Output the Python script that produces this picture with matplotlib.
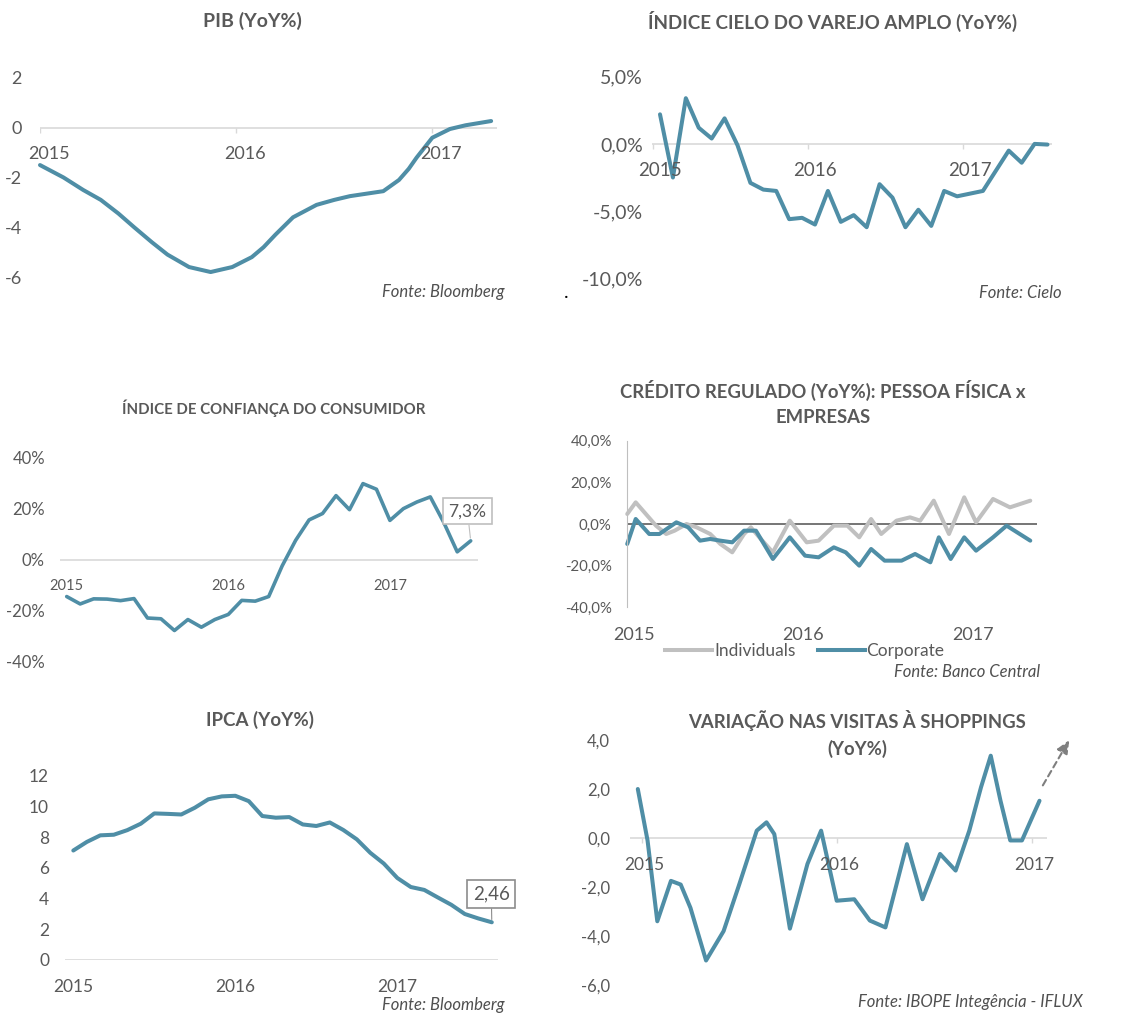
import matplotlib
matplotlib.use("Agg")
import matplotlib.pyplot as plt
from matplotlib.lines import Line2D
import numpy as np

plt.rcParams['font.family'] = ['Lato', 'DejaVu Sans']

W, H = 1126, 1017
AZUL = '#4f8ea6'
CINZA_LINHA = '#c0c0c0'
TEXTO = '#595959'
EIXO = '#d9d9d9'
LW = 2.9

# ---- dados ----
# PIB (YoY%), leitura trimestral suavizada
pib_t = [2015.00, 2015.12, 2015.22, 2015.31, 2015.40, 2015.48, 2015.57, 2015.65, 2015.76,
         2015.87, 2015.98, 2016.08, 2016.14, 2016.20, 2016.29, 2016.41, 2016.50, 2016.58,
         2016.75, 2016.83, 2016.88, 2016.92, 2016.96, 2017.00, 2017.09, 2017.17, 2017.30]
pib_v = [-1.5, -2.0, -2.5, -2.9, -3.45, -4.0, -4.6, -5.1, -5.6,
         -5.8, -5.6, -5.2, -4.8, -4.3, -3.6, -3.1, -2.9, -2.75,
         -2.55, -2.1, -1.65, -1.2, -0.8, -0.4, -0.05, 0.1, 0.27]
pib_ticks = [2, 0, -2, -4, -6]

# Índice Cielo do varejo amplo, mensal desde jan/2015
cielo = [2.2, -2.5, 3.4, 1.2, 0.4, 1.9, -0.1, -2.9, -3.4, -3.5, -5.6, -5.5,
         -6.0, -3.5, -5.8, -5.3, -6.2, -3.0, -4.0, -6.2, -4.9, -6.1, -3.5, -3.9,
         -3.7, -3.5, -2.0, -0.5, -1.4, 0.0, -0.05]
cielo_ticks = [5, 0, -5, -10]
cielo_labels = ['5,0%', '0,0%', '-5,0%', '-10,0%']

# Índice de confiança do consumidor, mensal desde jan/2015
conf = [-14.5, -17.4, -15.4, -15.5, -16.1, -15.3, -22.9, -23.2, -27.8, -23.5, -26.5, -23.5,
        -21.5, -16.0, -16.3, -14.5, -2.5, 7.5, 15.5, 18.0, 25.0, 19.5, 29.7, 27.5,
        15.3, 19.9, 22.5, 24.5, 14.5, 3.0, 7.3]
conf_ticks = [40, 20, 0, -20, -40]
conf_labels = ['40%', '20%', '0%', '-20%', '-40%']

# Crédito regulado: pessoa física x empresas
pf_t = [2014.96, 2015.01, 2015.13, 2015.19, 2015.24, 2015.31, 2015.37, 2015.45, 2015.51,
        2015.58, 2015.65, 2015.69, 2015.74, 2015.82, 2015.92, 2016.02, 2016.09, 2016.18,
        2016.26, 2016.33, 2016.40, 2016.46, 2016.55, 2016.63, 2016.69, 2016.77, 2016.86,
        2016.95, 2017.02, 2017.12, 2017.22, 2017.34]
pf_v = [4.8, 10.4, -0.8, -4.8, -3.2, 0.0, -1.6, -4.8, -9.6,
        -13.6, -4.8, -1.6, -6.4, -13.6, 1.6, -8.8, -8.0, -0.8,
        -0.8, -6.4, 2.4, -4.8, 1.6, 3.2, 1.6, 11.2, -4.8,
        12.8, 0.8, 12.0, 8.0, 11.2]
pj_t = [2014.96, 2015.01, 2015.09, 2015.15, 2015.25, 2015.32, 2015.39, 2015.45, 2015.51,
        2015.58, 2015.65, 2015.72, 2015.82, 2015.92, 2016.01, 2016.09, 2016.18, 2016.25,
        2016.33, 2016.40, 2016.48, 2016.58, 2016.66, 2016.75, 2016.80, 2016.87, 2016.95,
        2017.02, 2017.12, 2017.20, 2017.34]
pj_v = [-9.6, 2.4, -4.8, -4.8, 0.8, -1.6, -8.0, -7.2, -8.0,
        -8.8, -3.2, -3.2, -16.8, -6.4, -15.2, -16.0, -11.2, -13.6,
        -20.0, -12.0, -17.6, -17.6, -14.4, -18.4, -6.4, -16.8, -6.4,
        -12.8, -6.4, -0.8, -8.0]
cred_ticks = [40, 20, 0, -20, -40]
cred_labels = ['40,0%', '20,0%', '0,0%', '-20,0%', '-40,0%']

# IPCA (YoY%), mensal desde jan/2015
ipca = [7.14, 7.70, 8.13, 8.17, 8.47, 8.89, 9.56, 9.53, 9.49, 9.93, 10.48, 10.67,
        10.71, 10.36, 9.39, 9.28, 9.32, 8.84, 8.74, 8.97, 8.48, 7.87, 6.99, 6.29,
        5.35, 4.76, 4.57, 4.08, 3.60, 3.00, 2.71, 2.46]
ipca_ticks = [12, 10, 8, 6, 4, 2, 0]

# Variação nas visitas a shoppings
shop_t = [2014.98, 2015.03, 2015.08, 2015.15, 2015.20, 2015.25, 2015.33, 2015.42, 2015.50,
          2015.59, 2015.64, 2015.68, 2015.76, 2015.85, 2015.92, 2016.00, 2016.09, 2016.17,
          2016.25, 2016.36, 2016.44, 2016.53, 2016.61, 2016.68, 2016.74, 2016.79, 2016.84,
          2016.89, 2016.95, 2017.04]
shop_v = [2.0, -0.1, -3.4, -1.75, -1.9, -2.85, -5.0, -3.8, -1.9,
          0.3, 0.64, 0.16, -3.7, -1.06, 0.3, -2.56, -2.5, -3.37,
          -3.65, -0.25, -2.5, -0.65, -1.33, 0.3, 2.07, 3.36, 1.52,
          -0.1, -0.1, 1.52]
shop_ticks = [4, 2, 0, -2, -4, -6]
shop_labels = ['4,0', '2,0', '0,0', '-2,0', '-4,0', '-6,0']

anos = [2015, 2016, 2017]

fig = plt.figure(figsize=(W / 100, H / 100), dpi=100)
fig.patch.set_facecolor('white')


def painel(left, right, top, bottom, xref, yref):
    (xa_px, xa), (xb_px, xb) = xref
    sx = (xb - xa) / (xb_px - xa_px)
    (ya_px, ya), (yb_px, yb) = yref
    sy = (yb - ya) / (yb_px - ya_px)
    ax = fig.add_axes([left / W, 1 - bottom / H, (right - left) / W, (bottom - top) / H])
    ax.set_xlim(xa + (left - xa_px) * sx, xa + (right - xa_px) * sx)
    ax.set_ylim(ya + (bottom - ya_px) * sy, ya + (top - ya_px) * sy)
    for s in ax.spines.values():
        s.set_visible(False)
    ax.set_xticks([])
    ax.patch.set_alpha(0)
    return ax


def eixo_y(ax, ticks, labels, pad_px, size=12.5):
    ax.set_yticks(ticks, labels)
    ax.tick_params(axis='y', length=0, pad=pad_px * 0.72, labelsize=size, labelcolor=TEXTO)


def anos_x(ax, xs, y, dy, size=12.5, dx=0):
    for x, a in zip(xs, anos):
        ax.annotate(str(a), (x, y), xytext=(dx, -dy), textcoords='offset pixels',
                    ha='center', va='center', fontsize=size, color=TEXTO)


def titulo(txt, x, y, size=13.5, weight='bold', espaco=1.2):
    fig.text(x / W, 1 - y / H, txt, ha='center', va='center', fontsize=size,
             fontweight=weight, color=TEXTO, linespacing=espaco)


def fonte(txt, x, y, size=12):
    fig.text(x / W, 1 - y / H, txt, ha='right', va='center', fontsize=size,
             style='italic', color='#505050')


def marcas(ax, xs, comprimento):
    ax.vlines(xs, 0, -comprimento, color=EIXO, lw=1)


# PIB
ax1 = painel(40, 497, 78, 277, ((40, 2015), (432.3, 2017)), ((78, 2), (277, -6)))
ax1.axhline(0, color=EIXO, lw=1.2)
marcas(ax1, anos, 0.2)
ax1.plot(pib_t, pib_v, color=AZUL, lw=LW, solid_capstyle='round', clip_on=False)
eixo_y(ax1, pib_ticks, [str(t) for t in pib_ticks], 18, size=13)
anos_x(ax1, anos, 0, 26, size=13, dx=9)
titulo('PIB (YoY%)', 252, 21, size=14)
fonte('Fonte: Bloomberg', 505, 292)

# Cielo
cielo_t = 2015 + np.arange(len(cielo)) / 12
ax2 = painel(651.7, 1051.7, 76.7, 278.3, ((660, 2015), (970, 2017)), ((76.7, 5), (278.3, -10)))
ax2.axhline(0, color=EIXO, lw=1.2)
marcas(ax2, [a - 0.045 for a in anos], 0.4)
ax2.plot(cielo_t, cielo, color=AZUL, lw=LW, solid_capstyle='round', clip_on=False)
eixo_y(ax2, cielo_ticks, cielo_labels, 8.7, size=14)
anos_x(ax2, anos, 0, 27, size=13.5)
titulo('ÍNDICE CIELO DO VAREJO AMPLO (YoY%)', 833, 21)
fonte('Fonte: Cielo', 1062, 293)
fig.text(566 / W, 1 - 292 / H, '.', fontsize=14, color='black', ha='center', va='center')

# Confiança do consumidor
conf_t = 2015 + np.arange(len(conf)) / 12
ax3 = painel(60, 478, 457.3, 661.7, ((66.7, 2015), (389.9, 2017)), ((457.3, 40), (661.7, -40)))
ax3.axhline(0, color=EIXO, lw=1.2)
ax3.plot(conf_t, conf, color=AZUL, lw=2.6, solid_capstyle='round', clip_on=False)
eixo_y(ax3, conf_ticks, conf_labels, 15, size=12)
anos_x(ax3, anos, 0, 26, size=10.5)
titulo('ÍNDICE DE CONFIANÇA DO CONSUMIDOR', 274, 408, size=10.8)
ax3.annotate('7,3%', (conf_t[-1], conf[-1]), xytext=(2017.48, 18.9), textcoords='data',
             ha='center', va='center', fontsize=12.5, color=TEXTO,
             bbox=dict(boxstyle='square,pad=0.3', fc='white', ec='#bfbfbf', lw=1.2),
             arrowprops=dict(arrowstyle='-', color='#bfbfbf', lw=0.8, shrinkA=0, shrinkB=2))

# Crédito regulado
ax4 = painel(626.7, 1036.7, 440.7, 607.3, ((634, 2015), (972.7, 2017)), ((440.7, 40), (607.3, -40)))
ax4.spines['left'].set_visible(True)
ax4.spines['left'].set_color('#bfbfbf')
ax4.axhline(0, color='#505050', lw=1.1)
ax4.plot(pf_t, pf_v, color=CINZA_LINHA, lw=LW, solid_capstyle='round', clip_on=False)
ax4.plot(pj_t, pj_v, color=AZUL, lw=LW, solid_capstyle='round', clip_on=False)
eixo_y(ax4, cred_ticks, cred_labels, 15, size=10.8)
anos_x(ax4, anos, -40, 28, size=13)
titulo('CRÉDITO REGULADO (YoY%): PESSOA FÍSICA x\nEMPRESAS', 823, 403, size=13.3, espaco=1.55)
ax4.legend([Line2D([], [], color=CINZA_LINHA, lw=LW), Line2D([], [], color=AZUL, lw=LW)],
           ['Individuals', 'Corporate'], loc='center', ncol=2, frameon=False,
           bbox_to_anchor=(805 / W, 1 - 651 / H), bbox_transform=fig.transFigure,
           handlelength=2.7, handletextpad=0.1, columnspacing=1.3, fontsize=12.5,
           labelcolor=TEXTO)
fonte('Fonte: Banco Central', 1040, 672)

# IPCA
ipca_t = 2015 + np.arange(len(ipca)) / 12
ax5 = painel(65, 498, 776, 960, ((73.3, 2015), (397.3, 2017)), ((776, 12), (960, 0)))
ax5.axhline(0, color=EIXO, lw=1.2)
ax5.plot(ipca_t, ipca, color=AZUL, lw=LW, solid_capstyle='round', clip_on=False)
eixo_y(ax5, ipca_ticks, [str(t) for t in ipca_ticks], 16)
anos_x(ax5, anos, 0, 27, size=12.5)
titulo('IPCA (YoY%)', 260, 720)
ax5.annotate('2,46', (ipca_t[-1], ipca[-1]), xytext=(2017.58, 4.3), textcoords='data',
             ha='center', va='center', fontsize=13.5, color=TEXTO,
             bbox=dict(boxstyle='square,pad=0.3', fc='white', ec='#8c8c8c', lw=1.2),
             arrowprops=dict(arrowstyle='-', color='#8c8c8c', lw=0.8, shrinkA=0, shrinkB=2))
fonte('Fonte: Bloomberg', 505, 1005)

# Visitas a shoppings
ax6 = painel(630, 1047, 740, 985, ((641.7, 2015), (1031.7, 2017)), ((740, 4), (985, -6)))
ax6.axhline(0, color=EIXO, lw=1.2)
marcas(ax6, anos, 0.2)
ax6.plot(shop_t, shop_v, color=AZUL, lw=LW, solid_capstyle='round', clip_on=False)
ax6.annotate('', xy=(2017.20, 4.1), xytext=(2017.05, 2.05), textcoords='data',
             arrowprops=dict(arrowstyle='-|>,head_length=0.8,head_width=0.35', color='#7f7f7f',
                             lw=1.5, linestyle=(0, (3, 2))), annotation_clip=False)
eixo_y(ax6, shop_ticks, shop_labels, 20, size=12)
anos_x(ax6, [2015, 2016, 2017], 0, 27, size=12.5, dx=3)
titulo('VARIAÇÃO NAS VISITAS À SHOPPINGS\n(YoY%)', 857, 734, size=13.3, espaco=1.55)
fonte('Fonte: IBOPE Integência - IFLUX', 1083, 1002)

fig.savefig('out.png', dpi=100, facecolor='white')
